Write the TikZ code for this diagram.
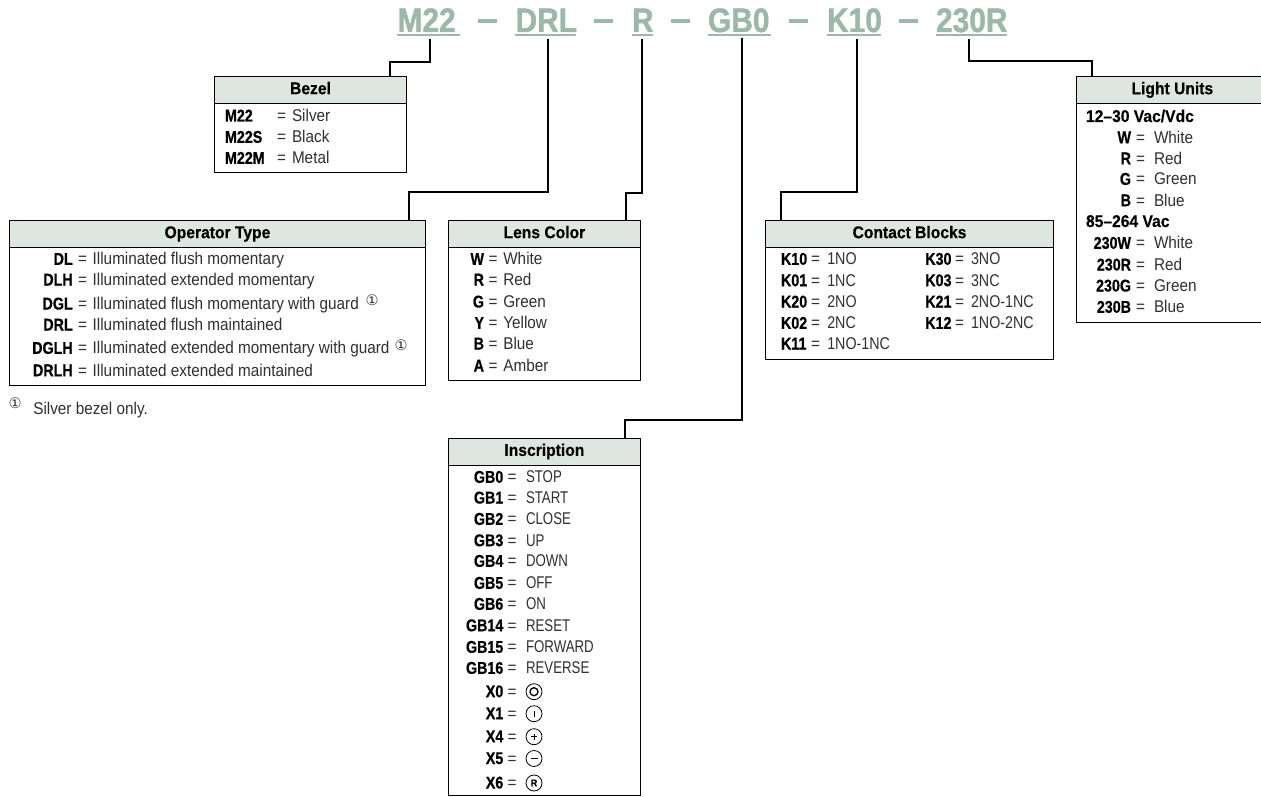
\documentclass[tikz,border=0pt]{standalone}
\usepackage{fontspec}
\setmainfont{Liberation Sans}[FakeStretch=0.9,BoldFeatures={FakeStretch=0.92,FakeBold=0.3}]
\newfontfamily\keyfont{Liberation Sans}[BoldFeatures={FakeStretch=0.84,FakeBold=0.6}]
\newfontfamily\capsfont{Liberation Sans}[FakeStretch=0.78]
\newfontfamily\contfont{Liberation Sans}[FakeStretch=0.84]
\newfontfamily\titlefont{Liberation Sans}[BoldFeatures={FakeStretch=0.88,FakeBold=1.2}]
\newfontfamily\symfont{DejaVu Sans}
\definecolor{titlegreen}{HTML}{9CB8A8}
\definecolor{hdrfill}{HTML}{DDE6E1}
\definecolor{bodyink}{HTML}{303030}
\newcounter{rowno}
\newcommand{\bodyfont}{\fontsize{17}{17}\selectfont}
% key anchor, key x, equals x, value x
\newcommand{\setcols}[4]{\def\kanch{#1}\def\kx{#2}\def\ex{#3}\def\vx{#4}}
\newcommand{\valfont}{}
\newcommand{\entry}[3]{%
  \stepcounter{rowno}%
  \node[txt,anchor=base \kanch,font=\keyfont\bodyfont\bfseries,text=black] (k\therowno) at (\kx,#1+5.5) {#2};
  \node[txt,anchor=base west] (e\therowno) at (\ex,#1+5.5) {=};
  \ifx\relax#3\relax\else
  \node[txt,anchor=base west] (v\therowno) at (\vx,#1+5.5) {\valfont #3};
  \fi}
\newcommand{\boxat}[7]{% name, x, y, width, header h, body h, title
  \node[hdr,minimum width=#4pt,minimum height=#5pt,anchor=north west] (h#1) at (#2,#3) {#7};
  \node[bodybox,minimum width=#4pt,minimum height=#6pt,anchor=north west] (b#1) at (h#1.south west) {};}
\tikzset{
  txt/.style={inner sep=0pt,outer sep=0pt,font=\bodyfont,text=bodyink},
  hdr/.style={draw=black,line width=1pt,fill=hdrfill,inner sep=0pt,outer sep=0pt,text height=12pt,text depth=3.5pt,font=\fontsize{17}{17}\selectfont\bfseries},
  bodybox/.style={draw=black,line width=1pt,fill=white,inner sep=0pt,outer sep=0pt},
  conn/.style={draw=black,line width=2pt,line join=miter},
  codepart/.style={inner sep=0pt,outer sep=0pt,anchor=base west,text=titlegreen,font=\titlefont\fontsize{34}{34}\selectfont\bfseries},
  uline/.style={draw=titlegreen,line width=2pt},
  dashpart/.style={draw=titlegreen,line width=3.4pt},
  note/.style={inner sep=0pt,outer sep=0pt,font=\symfont\fontsize{14.5}{14.5}\selectfont,text=bodyink},
  sym/.style={circle,draw=black,line width=0.8pt,minimum size=16pt,inner sep=0pt,outer sep=0pt},
  symline/.style={draw=black,line width=0.9pt}
}
\begin{document}
\begin{tikzpicture}[x=1pt,y=-1pt]
\useasboundingbox (0,0) rectangle (1261,797);
% code line
\node[codepart] (tM22) at (397.5,32) {M22};
\node[codepart] (tDRL) at (515.5,32) {DRL};
\node[codepart] (tR) at (632,32) {R};
\node[codepart] (tGB) at (708,32) {GB0};
\node[codepart] (tK) at (827,32) {K10};
\node[codepart] (tL) at (936,32) {230R};
\draw[uline] (397,35) -- (460,35);
\draw[uline] (515,35) -- (576,35);
\draw[uline] (632,35) -- (653,35);
\draw[uline] (708,35) -- (771,35);
\draw[uline] (827,35) -- (881,35);
\draw[uline] (936,35) -- (1007,35);
\draw[dashpart] (477.5,21) -- (497,21);
\draw[dashpart] (594,21) -- (613,21);
\draw[dashpart] (671,21) -- (690,21);
\draw[dashpart] (789,21) -- (808,21);
\draw[dashpart] (899,21) -- (918,21);
% boxes
\boxat{Bezel}{214.5}{76.7}{192}{26.5}{69}{Bezel}
\boxat{Op}{9.3}{220.5}{416.3}{26.8}{138}{Operator Type}
\boxat{Lens}{448.3}{220.5}{192.2}{26.8}{133}{Lens Color}
\boxat{Cont}{765.3}{220.5}{288.4}{26.8}{112}{Contact Blocks}
\boxat{Insc}{448.3}{438.3}{192.2}{26.7}{330.5}{Inscription}
\boxat{Light}{1076.7}{76.7}{191.3}{26.6}{219}{Light Units}
% connectors
\coordinate (sM22) at (430,39); \coordinate (jM22) at (390,62);
\draw[conn] (sM22) |- (jM22) -- (hBezel.north -| jM22);
\coordinate (sDRL) at (548.3,39); \coordinate (jDRL) at (409.3,192);
\draw[conn] (sDRL) |- (jDRL) -- (hOp.north -| jDRL);
\coordinate (sR) at (641.7,39); \coordinate (jR) at (626,192.5);
\draw[conn] (sR) |- (jR) -- (hLens.north -| jR);
\coordinate (sGB) at (741.7,38); \coordinate (jGB) at (625,420);
\draw[conn] (sGB) |- (jGB) -- (hInsc.north -| jGB);
\coordinate (sK) at (857,39); \coordinate (jK) at (781,192);
\draw[conn] (sK) |- (jK) -- (hCont.north -| jK);
\coordinate (sL) at (969,39); \coordinate (jL) at (1092,61);
\draw[conn] (sL) |- (jL) -- (hLight.north -| jL);
% Bezel
\setcols{west}{225}{277}{292}
\entry{116}{M22}{Silver}
\entry{137.3}{M22S}{Black}
\entry{158.3}{M22M}{Metal}
% Operator
\setcols{east}{72.7}{78}{92.7}
\entry{259.3}{DL}{Illuminated flush momentary}
\entry{280}{DLH}{Illuminated extended momentary}
\entry{304}{DGL}{Illuminated flush momentary with guard}
\entry{325}{DRL}{Illuminated flush maintained}
\entry{348.3}{DGLH}{Illuminated extended momentary with guard}
\entry{370.7}{DRLH}{Illuminated extended maintained}
\node[note] (n1) at (372,300.5) {①};
\node[note] (n2) at (401,345.5) {①};
\node[note] (n3) at (15,403) {①};
\node[txt,anchor=base west] (fn) at (33.3,414) {Silver bezel only.};
% Lens
\setcols{east}{484}{488.5}{503.3}
\entry{259.3}{W}{White}
\entry{280}{R}{Red}
\entry{302}{G}{Green}
\entry{323.3}{Y}{Yellow}
\entry{344}{B}{Blue}
\entry{366}{A}{Amber}
% Contact
\renewcommand{\valfont}{\contfont}
\setcols{west}{781}{811}{827.3}
\entry{259.3}{K10}{1NO}
\entry{280.7}{K01}{1NC}
\entry{302}{K20}{2NO}
\entry{323.3}{K02}{2NC}
\entry{344}{K11}{1NO-1NC}
\setcols{west}{925.3}{955}{971}
\entry{259.3}{K30}{3NO}
\entry{280.7}{K03}{3NC}
\entry{302}{K21}{2NO-1NC}
\entry{323.3}{K12}{1NO-2NC}
% Inscription
\renewcommand{\valfont}{\capsfont}
\setcols{east}{503.3}{507.5}{526}
\entry{477.3}{GB0}{STOP}
\entry{498}{GB1}{START}
\entry{519.3}{GB2}{CLOSE}
\entry{540.7}{GB3}{UP}
\entry{561.3}{GB4}{DOWN}
\entry{583.3}{GB5}{OFF}
\entry{604.3}{GB6}{ON}
\entry{625.7}{GB14}{RESET}
\entry{647.3}{GB15}{FORWARD}
\entry{668.3}{GB16}{REVERSE}
\entry{691.7}{X0}{}
\entry{713.7}{X1}{}
\entry{736.7}{X4}{}
\entry{758.5}{X5}{}
\entry{783}{X6}{}
\renewcommand{\valfont}{}
\node[sym] (s0) at (534,691.7) {};
\node[circle,draw=black,line width=1.3pt,minimum size=8pt,inner sep=0pt] (s0i) at (s0.center) {};
\node[sym] (s1) at (534,713.7) {};
\draw[symline] ([yshift=-3pt]s1.center) -- ([yshift=3pt]s1.center);
\node[sym] (s4) at (534,736.7) {};
\draw[symline] ([yshift=-3pt]s4.center) -- ([yshift=3pt]s4.center);
\draw[symline] ([xshift=-3pt]s4.center) -- ([xshift=3pt]s4.center);
\node[sym] (s5) at (534,758.5) {};
\draw[symline] ([xshift=-3.5pt]s5.center) -- ([xshift=3.5pt]s5.center);
\node[sym,font=\fontsize{10}{10}\selectfont\bfseries] (s6) at (534,783) {R};
% Light units
\node[txt,anchor=base west,font=\bodyfont\bfseries,text=black] (l1) at (1086,122) {12–30 Vac/Vdc};
\setcols{east}{1131}{1136}{1154}
\entry{137.7}{W}{White}
\entry{158.7}{R}{Red}
\entry{179.3}{G}{Green}
\entry{200.7}{B}{Blue}
\node[txt,anchor=base west,font=\bodyfont\bfseries,text=black] (l2) at (1086,227) {85–264 Vac};
\entry{243.3}{230W}{White}
\entry{265}{230R}{Red}
\entry{286}{230G}{Green}
\entry{307.3}{230B}{Blue}
\end{tikzpicture}
\end{document}
